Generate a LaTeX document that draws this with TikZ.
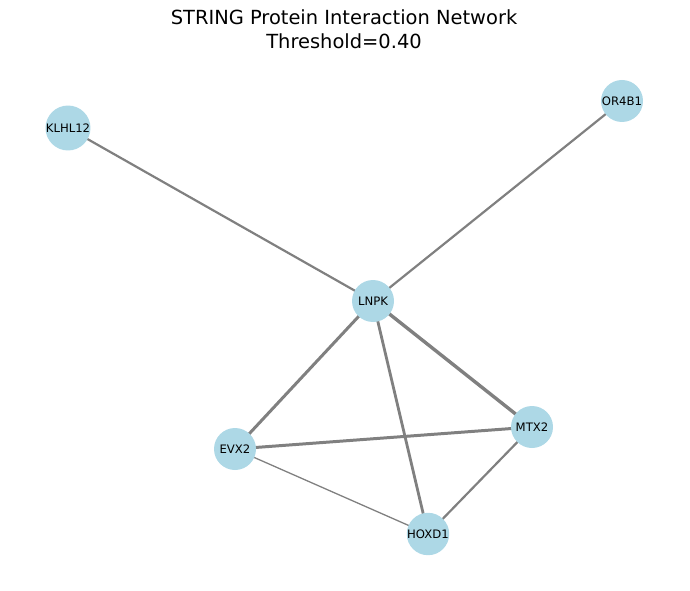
\documentclass[tikz,border=0pt]{standalone}
\usepackage{fontspec}
\setmainfont{DejaVu Sans}
\begin{document}
\begin{tikzpicture}[x=0.72pt,y=-0.72pt,
  prot/.style={circle,fill=lightblue,minimum size=42*0.72pt,inner sep=0pt,font=\fontsize{8.4}{10}\selectfont},
  edge/.style={draw=gray50,line width=#1*0.72pt},
  title/.style={font=\fontsize{14}{17}\selectfont,align=center}]
\definecolor{lightblue}{HTML}{ADD8E6}
\definecolor{gray50}{HTML}{808080}
\useasboundingbox (0,0) rectangle (690,590);
\node[title] (t) at (344,29) {STRING Protein Interaction Network\\Threshold=0.40};
\coordinate (pK) at (68,128);
\coordinate (pO) at (622,101);
\coordinate (pL) at (373,301);
\coordinate (pM) at (532,427);
\coordinate (pE) at (235,449);
\coordinate (pH) at (428,534);
\draw[edge=2.2] (pK) -- (pL);
\draw[edge=2.2] (pO) -- (pL);
\draw[edge=3.4] (pL) -- (pM);
\draw[edge=3.0] (pL) -- (pE);
\draw[edge=2.8] (pL) -- (pH);
\draw[edge=3.0] (pE) -- (pM);
\draw[edge=1.3] (pE) -- (pH);
\draw[edge=2.2] (pM) -- (pH);
\node[prot] (KLHL12) at (pK) {KLHL12};
\node[prot] (OR4B1) at (pO) {OR4B1};
\node[prot] (LNPK) at (pL) {LNPK};
\node[prot] (MTX2) at (pM) {MTX2};
\node[prot] (EVX2) at (pE) {EVX2};
\node[prot] (HOXD1) at (pH) {HOXD1};
\end{tikzpicture}
\end{document}
